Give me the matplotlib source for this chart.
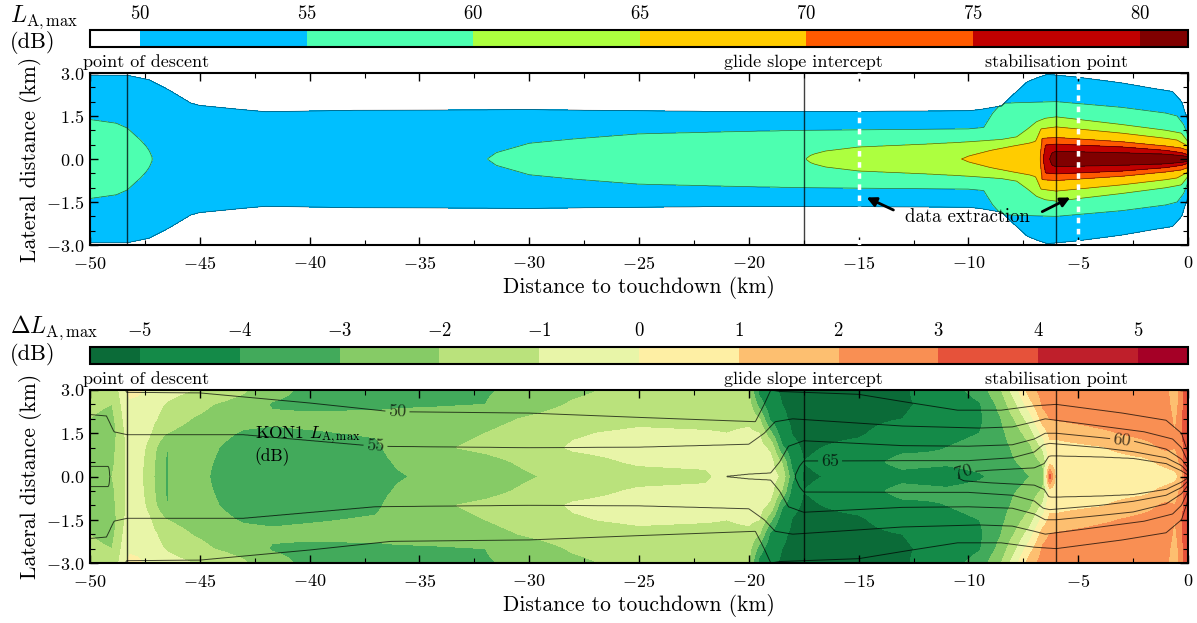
import numpy as np
import matplotlib.pyplot as plt
from matplotlib.ticker import MultipleLocator

plt.rcParams['font.family'] = 'serif'
plt.rcParams['font.serif'] = ['cmr10']
plt.rcParams['mathtext.fontset'] = 'cm'
plt.rcParams['axes.formatter.use_mathtext'] = True

# ---- top panel: L_A,max contour half-widths (km) per level ----
lmax_bounds = [48.5, 50, 55, 60, 65, 70, 75, 80, 81.45]
lmax_colors = ['#ffffff', '#00bfff', '#4dffb0', '#adff3f', '#ffcc00',
               '#ff5a00', '#c00000', '#800000']
lmax_levels = [50, 55, 60, 65, 70, 75, 80]

l50_x = [-50, -48.3, -47.3, -46.4, -45.4, -45, -43, -42, -38, -30, -25, -20, -15,
         -10, -9.5, -8.5, -7.8, -7.3, -6.8, -6.4, -5, -3, -1.5, -0.7, -0.3, 0]
l50_w = [2.92, 2.92, 2.76, 2.41, 1.95, 1.87, 1.72, 1.65, 1.7, 1.72, 1.68, 1.65, 1.66,
         1.68, 1.72, 1.85, 2.35, 2.7, 2.85, 2.95, 2.85, 2.65, 2.45, 2.35, 2.0, 1.3]
l55_x = [-50, -48.8, -48.3, -47.7, -47.45, -47.3, -47.15, -31.9, -31.5, -31, -30, -28,
         -25, -20, -17.5, -10, -9.3, -8.9, -8.5, -6, -3, -1, -0.5, -0.2, 0]
l55_w = [1.38, 1.25, 1.08, 0.66, 0.45, 0.28, 0.0, 0.0, 0.22, 0.33, 0.55, 0.7,
         0.88, 0.97, 1.0, 1.05, 1.1, 1.6, 1.95, 2.0, 1.8, 1.6, 1.5, 1.2, 0.8]
l60_x = [-17.4, -17.2, -17.0, -16.5, -15, -12, -10, -8.5, -7.8, -7.3, -6.9, -6.5,
         -6, -3, -1, -0.3, 0]
l60_w = [0.0, 0.12, 0.18, 0.28, 0.42, 0.52, 0.6, 0.68, 0.77, 1.05, 1.3, 1.42,
         1.47, 1.2, 1.0, 0.9, 0.6]
l65_x = [-10.3, -10, -9.5, -9, -8, -7.2, -6.95, -6.7, -6, -3, -1, -0.5, 0]
l65_w = [0.0, 0.1, 0.2, 0.3, 0.45, 0.56, 0.62, 1.05, 1.12, 0.9, 0.72, 0.66, 0.45]
l70_x = [-6.75, -6.65, -6, -3, -1, -0.3, 0]
l70_w = [0.0, 0.72, 0.75, 0.6, 0.45, 0.38, 0.3]
l75_x = [-6.6, -6.5, -6, -3, -1, -0.3, 0]
l75_w = [0.0, 0.49, 0.52, 0.42, 0.3, 0.22, 0.15]
l80_x = [-6.3, -6.2, -6, -3, -1, -0.3, 0]
l80_w = [0.0, 0.22, 0.27, 0.22, 0.17, 0.12, 0.08]

# ---- bottom panel: Delta L_A,max table (rows: distance, cols: |lateral|) ----
dl_bounds = [-5.5, -5, -4, -3, -2, -1, 0, 1, 2, 3, 4, 5, 5.5]
dl_colors = ['#0b6b38', '#148a48', '#42aa5b', '#86cb66', '#bae27c', '#e8f5a8',
             '#feefa4', '#fdbf70', '#f98f53', '#e6523a', '#bf1f2b', '#a50026']
dl_y = [0.0, 0.5, 1.0, 1.5, 2.0, 2.5, 3.0]
dl_x = [-50, -49, -48.5, -48.2, -47.8, -47.3, -46.5, -46.0, -45.0, -44.4, -43,
        -41.7, -40, -37, -36, -34, -32, -30, -28, -25, -22, -21, -20, -19.5,
        -19.0, -18.5, -18.0, -17.5, -15, -13, -11, -9.5, -8.5, -7.8, -7.2, -6.6,
        -6.3, -6.0, -4.0, -2.0, -1.0, -0.6, -0.3, -0.15, 0]
dl_values = [
    [-2.3, -2.3, -2.2, -2.1, -2.0, -1.8, -1.8],
    [-2.0, -2.2, -2.3, -2.5, -2.3, -2.0, -1.8],
    [-1.3, -1.3, -1.3, -1.2, -1.0, -0.8, -0.5],
    [-0.5, -0.5, -0.5, -0.5, -0.4, -0.2, 0.3],
    [-0.6, -0.6, -0.5, -0.5, -0.4, -0.3, 0.2],
    [-1.6, -1.5, -1.3, -0.9, -0.7, -0.5, -0.4],
    [-3.1, -3.1, -3.05, -2.0, -1.4, -1.1, -0.6],
    [-2.5, -2.5, -2.4, -2.2, -1.7, -1.3, -0.8],
    [-2.7, -2.7, -2.6, -2.5, -2.2, -1.6, -1.1],
    [-3.1, -3.0, -2.9, -2.7, -2.5, -2.0, -1.5],
    [-3.5, -3.5, -3.4, -3.1, -2.7, -2.3, -1.9],
    [-3.6, -3.6, -3.5, -3.2, -2.8, -3.1, -2.6],
    [-3.6, -3.6, -3.5, -3.1, -2.7, -3.3, -3.3],
    [-3.4, -3.3, -3.2, -2.9, -2.6, -3.3, -3.3],
    [-3.1, -2.9, -2.6, -2.5, -2.5, -3.2, -3.3],
    [-2.7, -2.5, -2.1, -2.3, -2.5, -3.1, -3.2],
    [-2.5, -2.3, -1.8, -2.0, -2.3, -3.0, -3.1],
    [-2.1, -1.8, -1.4, -1.6, -1.9, -2.4, -2.7],
    [-1.6, -1.3, -0.9, -1.1, -1.6, -1.9, -2.2],
    [-1.3, -0.9, -0.7, -0.8, -1.3, -1.5, -1.7],
    [-1.2, -0.8, -0.7, -0.9, -1.4, -1.4, -1.5],
    [-0.6, -0.7, -0.7, -1.0, -1.3, -1.4, -1.4],
    [-0.5, -0.5, -0.6, -0.8, -1.3, -1.6, -2.0],
    [-0.5, -0.6, -0.7, -1.0, -2.0, -3.5, -4.5],
    [-0.6, -0.7, -1.2, -2.8, -4.3, -4.8, -4.9],
    [-1.2, -2.0, -3.8, -4.6, -4.9, -5.0, -5.05],
    [-3.8, -4.5, -4.8, -5.05, -5.1, -5.1, -5.1],
    [-5.1, -5.0, -5.1, -5.2, -5.2, -5.2, -5.2],
    [-4.8, -4.6, -4.8, -5.1, -5.2, -5.1, -5.1],
    [-4.4, -3.6, -4.3, -4.6, -5.0, -5.1, -5.1],
    [-4.6, -3.8, -4.0, -4.3, -4.6, -4.7, -4.5],
    [-4.2, -3.5, -3.7, -4.0, -4.2, -4.1, -3.6],
    [-3.4, -3.3, -3.3, -3.2, -3.0, -2.6, -2.0],
    [-3.3, -3.0, -2.8, -2.4, -1.8, -1.0, -0.2],
    [-3.0, -2.7, -2.2, -1.5, -0.5, 0.6, 1.6],
    [-2.5, -1.8, -0.8, 0.4, 1.5, 2.2, 2.4],
    [3.5, 0.5, 0.7, 1.2, 2.0, 2.5, 2.5],
    [0.5, 0.5, 0.6, 1.3, 2.1, 2.5, 2.5],
    [0.5, 0.5, 0.9, 1.8, 2.4, 2.5, 2.5],
    [0.5, 0.7, 1.6, 2.3, 2.5, 2.5, 2.4],
    [0.5, 1.3, 2.2, 2.5, 2.5, 2.4, 2.2],
    [0.6, 1.6, 2.0, 2.0, 1.8, 1.5, 1.4],
    [1.5, 2.2, 2.5, 2.6, 2.6, 2.5, 2.5],
    [3.3, 3.4, 3.5, 3.5, 3.5, 3.5, 3.5],
    [3.5, 3.5, 3.5, 3.5, 3.5, 3.5, 3.5],
]

# ---- bottom panel: KON1 L_A,max contour half-widths (km) ----
kon_levels = [50, 55, 60, 65, 70]
k50_x = [-50, -48.45, -48.35, -45, -40, -36.3, -30, -25, -19.7, -19.3, -19.0, -18.6,
         -15, -13, -10.5, -8.5, -7, -6, -3, -1, -0.3, 0]
k50_w = [3.4, 3.4, 2.92, 2.9, 2.55, 2.25, 2.2, 2.05, 1.9, 2.5, 3.0, 2.95,
         2.85, 2.6, 2.3, 2.3, 2.45, 2.5, 2.2, 1.95, 1.5, 0.8]
k55_x = [-50, -49.25, -48.9, -48.3, -43, -40, -37, -30, -25, -20, -19.3, -18.8, -18,
         -13, -9.5, -8, -7, -6.5, -4, -2, -0.7, -0.3, 0]
k55_w = [2.15, 2.1, 1.55, 1.45, 1.45, 1.25, 1.05, 1.0, 1.02, 1.12, 1.5, 1.9, 2.0,
         1.75, 1.68, 1.72, 1.9, 2.0, 1.75, 1.55, 1.3, 1.0, 0.5]
k60_x = [-50, -49.15, -49.1, -21.0, -20.0, -19.0, -18.6, -18.2, -17.5, -13, -10, -8,
         -7, -6.5, -6, -4, -2.5, -1, -0.3, 0]
k60_w = [0.35, 0.35, 0.0, 0.0, 0.08, 0.12, 0.5, 1.05, 1.24, 1.07, 1.05, 1.1,
         1.3, 1.5, 1.5, 1.35, 1.23, 0.95, 0.6, 0.3]
k65_x = [-17.9, -17.7, -17.5, -13, -10, -8, -7, -6.6, -6.3, -4, -2.5, -1, -0.3, 0]
k65_w = [0.0, 0.35, 0.54, 0.55, 0.55, 0.65, 0.85, 1.1, 1.15, 1.0, 0.86, 0.65, 0.38, 0.15]
k70_x = [-10.6, -10.2, -9, -8, -7, -6.55, -6.35, -6.2, -4, -2.5, -1, -0.3, 0]
k70_w = [0.0, 0.15, 0.22, 0.26, 0.3, 0.45, 0.7, 0.72, 0.68, 0.63, 0.45, 0.2, 0.05]

# flight phase markers
events = [-48.3, -17.5, -6.0]
event_names = ['point of descent', 'glide slope intercept', 'stabilisation point']
extraction_x = [-15, -5]


def band_field(xg, yg, levels, profiles, step, outer):
    """Field whose level-k contour sits at the given half-width profile."""
    W = np.array([np.interp(xg, px, pw, left=0.0, right=0.0) for px, pw in profiles])
    for k in range(1, len(W)):
        W[k] = np.minimum(W[k], W[k - 1] * 0.999)
    ay = np.abs(yg)
    Z = np.empty((len(yg), len(xg)))
    lv = np.array(levels, dtype=float)
    for j in range(len(xg)):
        on = W[:, j] > 1e-6
        ws = W[on, j][::-1]
        vs = lv[on][::-1]
        wp = np.concatenate(([0.0], ws, [ws[-1] + 1.0]))
        vp = np.concatenate(([vs[0] + step], vs, [outer]))
        Z[:, j] = np.interp(ay, wp, vp)
    return Z


def table_field(xg, yg, tx, ty, tv):
    tv = np.asarray(tv)
    ay = np.abs(yg)
    along_y = np.array([np.interp(ay, ty, row) for row in tv])
    return np.array([np.interp(xg, tx, along_y[:, i]) for i in range(len(yg))])


xg = np.linspace(-50, 0, 1400)
yg = np.linspace(-3, 3, 481)
X, Y = np.meshgrid(xg, yg)

top_profiles = [(l50_x, l50_w), (l55_x, l55_w), (l60_x, l60_w), (l65_x, l65_w),
                (l70_x, l70_w), (l75_x, l75_w), (l80_x, l80_w)]
Z_top = band_field(xg, yg, lmax_levels, top_profiles, 1.2, 48.6)

kon_profiles = [(k50_x, k50_w), (k55_x, k55_w), (k60_x, k60_w), (k65_x, k65_w),
                (k70_x, k70_w)]
Z_kon = band_field(xg, yg, kon_levels, kon_profiles, 2.0, 45.0)
Z_dl = table_field(xg, yg, dl_x, dl_y, dl_values)

fig = plt.figure(figsize=(11.97, 6.23), dpi=100)
W_, H_ = 1197.0, 623.0
left, width = 90 / W_, 1098 / W_
cax1 = fig.add_axes([left, 1 - 47 / H_, width, 17 / H_])
ax1 = fig.add_axes([left, 1 - 245 / H_, width, 172 / H_])
cax2 = fig.add_axes([left, 1 - 364 / H_, width, 17 / H_])
ax2 = fig.add_axes([left, 1 - 563 / H_, width, 173 / H_])

# top panel
cf1 = ax1.contourf(X, Y, Z_top, levels=lmax_bounds, colors=lmax_colors)
ax1.contour(X, Y, Z_top, levels=lmax_levels, colors='k', linewidths=0.5, alpha=0.6)
for xv in extraction_x:
    ax1.axvline(xv, color='white', lw=2.5, ls=(0, (1.6, 1.6)), zorder=3)
ax1.text(-12.9, -2.02, 'data extraction', fontsize=13.5, va='center', ha='left')
ax1.annotate('', xy=(-14.75, -1.3), xytext=(-13.3, -1.82),
             arrowprops=dict(arrowstyle='-|>', color='k', lw=2, mutation_scale=14))
ax1.annotate('', xy=(-5.25, -1.3), xytext=(-6.75, -1.88),
             arrowprops=dict(arrowstyle='-|>', color='k', lw=2, mutation_scale=14))

# bottom panel
cf2 = ax2.contourf(X, Y, Z_dl, levels=dl_bounds, colors=dl_colors)
cs = ax2.contour(X, Y, Z_kon, levels=kon_levels, colors='k', linewidths=0.7, alpha=0.7)
ax2.clabel(cs, fmt='%d', fontsize=13, inline=True, inline_spacing=3,
           manual=[(-36.0, 2.25), (-37.0, 1.05), (-16.3, 0.54), (-10.2, 0.1), (-3.0, 1.27)])
ax2.text(-42.5, 1.8, 'KON1 $L_{\\mathrm{A,max}}$\n(dB)', fontsize=12.5, va='top',
         ha='left', linespacing=1.1)

for ax in (ax1, ax2):
    for xv in events:
        ax.axvline(xv, color='k', lw=1.0, alpha=0.75, zorder=4)
    ax.text(-50.3, 1.015, event_names[0], transform=ax.get_xaxis_transform(),
            fontsize=13, ha='left', va='bottom')
    ax.text(events[1], 1.015, event_names[1], transform=ax.get_xaxis_transform(),
            fontsize=13, ha='center', va='bottom')
    ax.text(events[2], 1.015, event_names[2], transform=ax.get_xaxis_transform(),
            fontsize=13, ha='center', va='bottom')
    ax.set_xlim(-50, 0)
    ax.set_ylim(-3, 3)
    ax.xaxis.set_major_locator(MultipleLocator(5))
    ax.xaxis.set_minor_locator(MultipleLocator(2.5))
    ax.yaxis.set_major_locator(MultipleLocator(1.5))
    ax.yaxis.set_minor_locator(MultipleLocator(0.5))
    ax.tick_params(which='both', direction='in', top=True, right=True, labelsize=13)
    ax.tick_params(which='major', length=6, width=1)
    ax.tick_params(which='minor', length=3.5, width=0.8)
    ax.tick_params(axis='x', which='major', pad=7)
    ax.tick_params(axis='y', which='major', pad=4)
    ax.set_xlabel('Distance to touchdown (km)', fontsize=15.5, labelpad=3)
    ax.set_ylabel('Lateral distance (km)', fontsize=15.5, labelpad=3)
    for s in ax.spines.values():
        s.set_linewidth(1.5)

# colour bars
cb1 = fig.colorbar(cf1, cax=cax1, orientation='horizontal', spacing='proportional',
                   ticks=lmax_levels)
cb2 = fig.colorbar(cf2, cax=cax2, orientation='horizontal', spacing='proportional',
                   ticks=[-5, -4, -3, -2, -1, 0, 1, 2, 3, 4, 5])
for cb in (cb1, cb2):
    cb.ax.xaxis.set_ticks_position('top')
    cb.ax.tick_params(length=0, labelsize=13.5, pad=5)
    cb.outline.set_linewidth(1.5)

fig.text(10 / W_, 1 - 17 / H_, '$L_{\\mathrm{A,max}}$', fontsize=17, va='center')
fig.text(10 / W_, 1 - 42 / H_, '(dB)', fontsize=16, va='center')
fig.text(10 / W_, 1 - 328 / H_, '$\\Delta L_{\\mathrm{A,max}}$', fontsize=17, va='center')
fig.text(10 / W_, 1 - 354 / H_, '(dB)', fontsize=16, va='center')

fig.savefig('out.png', dpi=100)
